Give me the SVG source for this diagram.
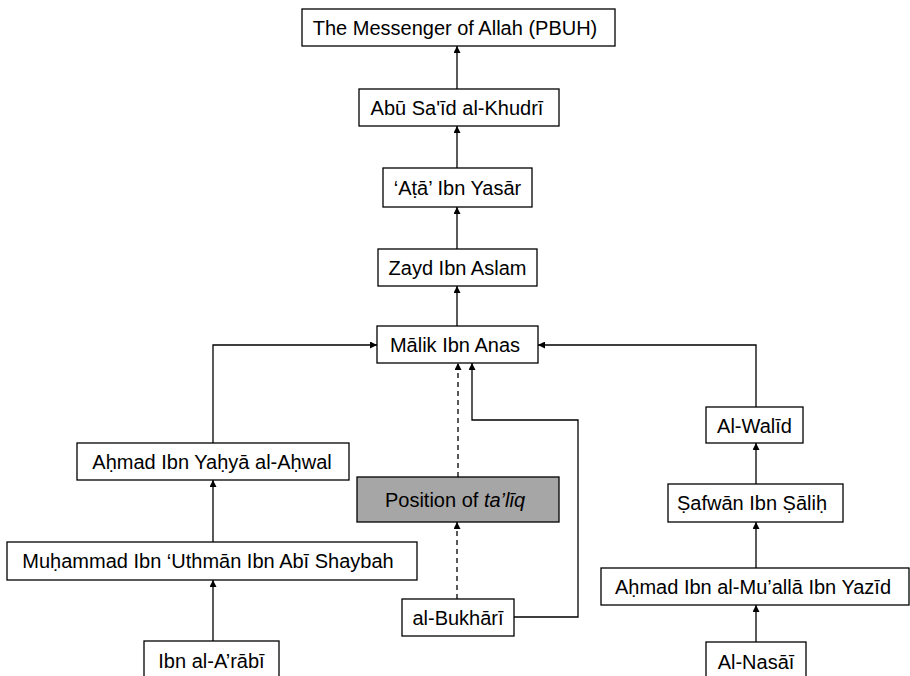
<svg xmlns="http://www.w3.org/2000/svg" width="910" height="676" viewBox="0 0 910 676">
<style>
.box{fill:#fff;stroke:#000;stroke-width:1.3}
.gray{fill:#a6a6a6;stroke:#000;stroke-width:1.3}
.t{font-family:"Liberation Sans",Arial,sans-serif;font-size:20px;fill:#000;text-anchor:middle}
.c{fill:none;stroke:#000;stroke-width:1.3}
.d{stroke-dasharray:5,4}
</style>
<defs>
<marker id="ah" viewBox="0 0 10 10" refX="10" refY="5" markerWidth="7" markerHeight="7" markerUnits="userSpaceOnUse" orient="auto">
<path d="M0,0 L10,5 L0,10 z" fill="#000"/>
</marker>
</defs>
<g id="connectors">
<line class="c" x1="457" y1="89" x2="457" y2="46" marker-end="url(#ah)"/>
<line class="c" x1="457" y1="168" x2="457" y2="126" marker-end="url(#ah)"/>
<line class="c" x1="457" y1="249" x2="457" y2="207" marker-end="url(#ah)"/>
<line class="c" x1="457" y1="326" x2="457" y2="286" marker-end="url(#ah)"/>
<polyline class="c" points="213,443 213,345 377,345" marker-end="url(#ah)"/>
<polyline class="c" points="756,407 756,345 538,345" marker-end="url(#ah)"/>
<line class="c" x1="213" y1="542" x2="213" y2="480" marker-end="url(#ah)"/>
<line class="c" x1="213" y1="641" x2="213" y2="580" marker-end="url(#ah)"/>
<line class="c" x1="756" y1="484" x2="756" y2="443" marker-end="url(#ah)"/>
<line class="c" x1="756" y1="568" x2="756" y2="522" marker-end="url(#ah)"/>
<line class="c" x1="756" y1="642" x2="756" y2="605" marker-end="url(#ah)"/>
<line class="c d" x1="458" y1="477" x2="458" y2="363" marker-end="url(#ah)"/>
<line class="c d" x1="457" y1="599" x2="457" y2="522" marker-end="url(#ah)"/>
<polyline class="c" points="514,617 578,617 578,420 472,420 472,363" marker-end="url(#ah)"/>
</g>
<g id="n-messenger"><rect class="box" x="302" y="9" width="313" height="37"/><text class="t" x="455" y="34.5">The Messenger of Allah (PBUH)</text></g>
<g id="n-abusaid"><rect class="box" x="359" y="89" width="200" height="37"/><text class="t" x="457" y="114.5">Abū Sa'īd al-Khudrī</text></g>
<g id="n-ata"><rect class="box" x="383" y="168" width="149" height="39"/><text class="t" x="457.5" y="194.5">‘Aṭā’ Ibn Yasār</text></g>
<g id="n-zayd"><rect class="box" x="378" y="249" width="159" height="37"/><text class="t" x="457.5" y="274.5">Zayd Ibn Aslam</text></g>
<g id="n-malik"><rect class="box" x="377" y="326" width="161" height="37"/><text class="t" x="455" y="351.5">Mālik Ibn Anas</text></g>
<g id="n-ahmad-ahwal"><rect class="box" x="77" y="443" width="272" height="37"/><text class="t" x="212" y="468.5">Aḥmad Ibn Yaḥyā al-Aḥwal</text></g>
<g id="n-muhammad"><rect class="box" x="7" y="542" width="410" height="38"/><text class="t" x="208" y="568">Muḥammad Ibn ‘Uthmān Ibn Abī Shaybah</text></g>
<g id="n-ibnarabi"><rect class="box" x="144" y="641" width="135" height="40"/><text class="t" x="211.5" y="668">Ibn al-A’rābī</text></g>
<g id="n-taliq"><rect class="gray" x="357" y="477" width="202" height="45"/><text class="t" x="455" y="506.5">Position of <tspan font-style="italic">ta’līq</tspan></text></g>
<g id="n-bukhari"><rect class="box" x="402" y="599" width="112" height="37"/><text class="t" x="458" y="624.5">al-Bukhārī</text></g>
<g id="n-walid"><rect class="box" x="706" y="407" width="97" height="36"/><text class="t" x="754.5" y="432.5">Al-Walīd</text></g>
<g id="n-safwan"><rect class="box" x="668" y="484" width="175" height="38"/><text class="t" x="752" y="510">Ṣafwān Ibn Ṣāliḥ</text></g>
<g id="n-ahmad-mualla"><rect class="box" x="601" y="568" width="308" height="37"/><text class="t" x="753" y="593.5">Aḥmad Ibn al-Mu’allā Ibn Yazīd</text></g>
<g id="n-nasai"><rect class="box" x="706" y="642" width="100" height="40"/><text class="t" x="756" y="669">Al-Nasāī</text></g>
</svg>
